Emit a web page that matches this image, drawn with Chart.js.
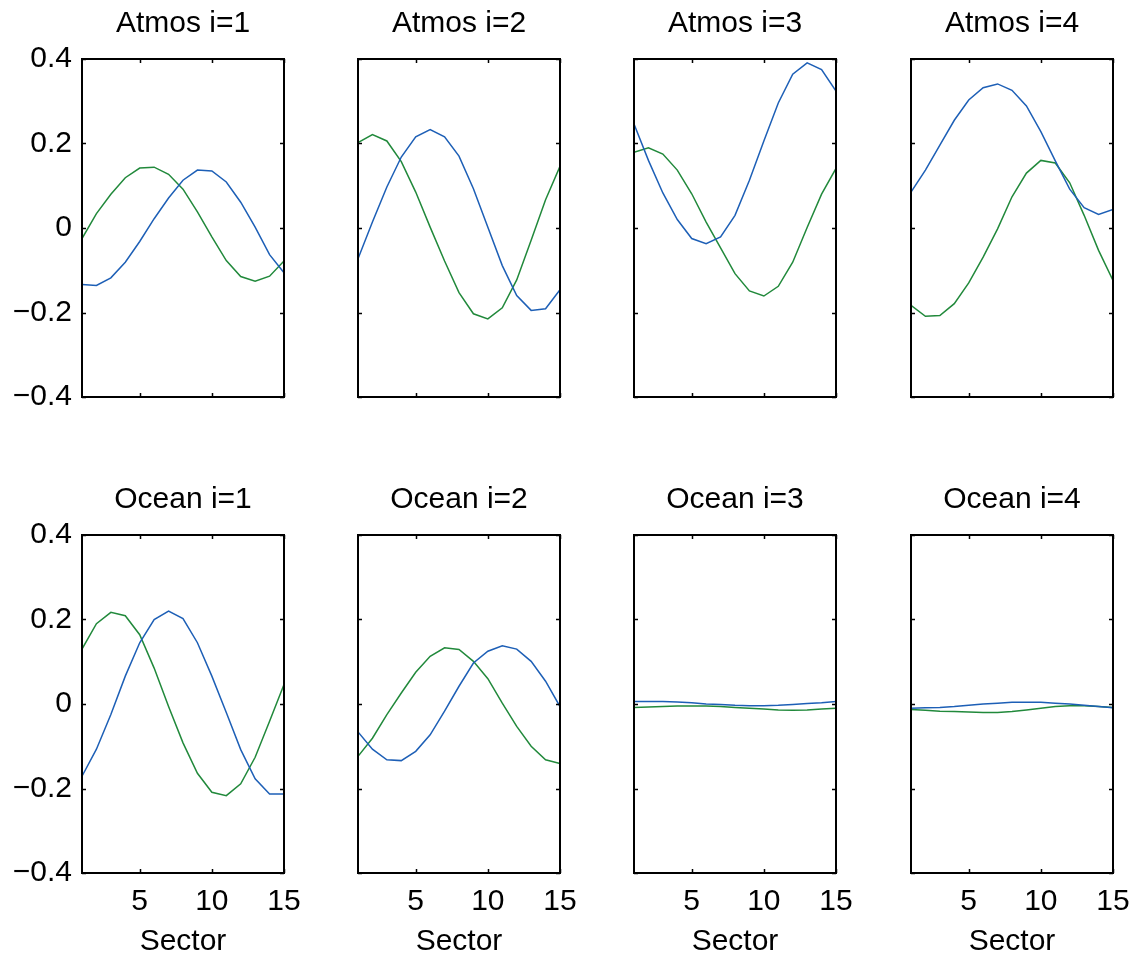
<!DOCTYPE html>
<html>
<head>
<meta charset="utf-8">
<script src="https://cdn.jsdelivr.net/npm/chart.js@4/dist/chart.umd.min.js"></script>
<style>
  html, body { margin: 0; padding: 0; background: #fff; }
  body { width: 1142px; height: 957px; position: relative; overflow: hidden; }
  canvas { position: absolute; }
</style>
</head>
<body>
<script>
// ---------- data ----------
const sectors = [1,2,3,4,5,6,7,8,9,10,11,12,13,14,15];
const panelTitles = ['Atmos i=1','Atmos i=2','Atmos i=3','Atmos i=4','Ocean i=1','Ocean i=2','Ocean i=3','Ocean i=4'];
const xTickValues = [5, 10, 15];
const xTickLabels = ['5', '10', '15'];
const xAxisTitle = 'Sector';
const yTickValues = [-0.4, -0.2, 0, 0.2, 0.4];
const yTickLabels = ['\u22120.4', '\u22120.2', '0', '0.2', '0.4'];

const atmosBlue1  = [-0.134,-0.136,-0.118,-0.081,-0.032,0.022,0.071,0.113,0.137,0.135,0.109,0.061,0.002,-0.063,-0.106];
const atmosGreen1 = [-0.025,0.034,0.080,0.119,0.142,0.144,0.127,0.092,0.038,-0.021,-0.077,-0.115,-0.126,-0.114,-0.078];
const atmosBlue2  = [-0.073,0.014,0.097,0.168,0.216,0.233,0.216,0.170,0.093,0.002,-0.089,-0.160,-0.195,-0.191,-0.146];
const atmosGreen2 = [0.202,0.221,0.206,0.157,0.085,0.002,-0.078,-0.153,-0.203,-0.215,-0.189,-0.123,-0.029,0.067,0.146];
const atmosBlue3  = [0.246,0.160,0.083,0.020,-0.025,-0.037,-0.021,0.030,0.113,0.206,0.296,0.364,0.391,0.375,0.324];
const atmosGreen3 = [0.179,0.190,0.175,0.137,0.081,0.014,-0.047,-0.108,-0.149,-0.161,-0.138,-0.081,0.001,0.080,0.141];
const atmosBlue4  = [0.085,0.137,0.196,0.255,0.303,0.332,0.341,0.326,0.289,0.228,0.159,0.092,0.048,0.032,0.044];
const atmosGreen4 = [-0.183,-0.209,-0.207,-0.179,-0.130,-0.069,-0.002,0.074,0.130,0.160,0.154,0.107,0.030,-0.053,-0.124];

const oceanBlue1  = [-0.171,-0.107,-0.025,0.066,0.145,0.200,0.220,0.202,0.145,0.066,-0.020,-0.108,-0.177,-0.213,-0.213];
const oceanGreen1 = [0.130,0.190,0.217,0.209,0.164,0.085,-0.006,-0.092,-0.164,-0.209,-0.217,-0.189,-0.126,-0.041,0.046];
const oceanBlue2  = [-0.066,-0.107,-0.132,-0.134,-0.112,-0.073,-0.017,0.042,0.097,0.125,0.138,0.130,0.101,0.054,-0.006];
const oceanGreen2 = [-0.124,-0.081,-0.025,0.026,0.075,0.113,0.133,0.129,0.101,0.060,0.002,-0.053,-0.100,-0.132,-0.141];
const oceanBlue3  = [0.006,0.006,0.006,0.005,0.003,0.000,-0.001,-0.003,-0.004,-0.004,-0.003,-0.001,0.001,0.003,0.006];
const oceanGreen3 = [-0.008,-0.007,-0.006,-0.005,-0.005,-0.005,-0.006,-0.008,-0.010,-0.012,-0.014,-0.015,-0.014,-0.012,-0.010];
const oceanBlue4  = [-0.010,-0.009,-0.008,-0.006,-0.003,0.000,0.002,0.004,0.004,0.004,0.002,0.000,-0.003,-0.006,-0.009];
const oceanGreen4 = [-0.013,-0.015,-0.017,-0.018,-0.019,-0.020,-0.020,-0.018,-0.014,-0.010,-0.006,-0.004,-0.004,-0.006,-0.008];

// ---------- layout / style ----------
const BLUE = '#1d5fb6';
const GREEN = '#21893b';
const FONT = '"Liberation Sans", Arial, Helvetica, sans-serif';
const plotLefts = [82, 358, 634, 911];
const rowTops = [0, 476];
const Y_AXIS_W = 82, PLOT_W = 202, RIGHT_PAD = 30;
const TITLE_H = 59, PLOT_H = 338, X_AXIS_H = 84;

const panels = [
  [atmosBlue1, atmosGreen1], [atmosBlue2, atmosGreen2], [atmosBlue3, atmosGreen3], [atmosBlue4, atmosGreen4],
  [oceanBlue1, oceanGreen1], [oceanBlue2, oceanGreen2], [oceanBlue3, oceanGreen3], [oceanBlue4, oceanGreen4]
];

const framePlugin = {
  id: 'matlabFrame',
  afterDraw(chart) {
    const {ctx, chartArea: a, scales} = chart;
    const tl = 4;
    ctx.save();
    ctx.strokeStyle = '#000';
    ctx.lineWidth = 1.5;
    ctx.beginPath();
    yTickValues.forEach(v => {
      const py = Math.round(scales.y.getPixelForValue(v)) + 0.5;
      ctx.moveTo(a.left, py); ctx.lineTo(a.left + tl, py);
      ctx.moveTo(a.right, py); ctx.lineTo(a.right - tl, py);
    });
    xTickValues.forEach(v => {
      const px = Math.round(scales.x.getPixelForValue(v)) + 0.5;
      ctx.moveTo(px, a.bottom); ctx.lineTo(px, a.bottom - tl);
      ctx.moveTo(px, a.top); ctx.lineTo(px, a.top + tl);
    });
    ctx.stroke();
    ctx.lineWidth = 2;
    ctx.strokeRect(a.left, a.top, a.right - a.left, a.bottom - a.top);
    ctx.restore();
  }
};

panels.forEach((pair, idx) => {
  const row = Math.floor(idx / 4), col = idx % 4;
  const canvas = document.createElement('canvas');
  const cw = Y_AXIS_W + PLOT_W + RIGHT_PAD, ch = TITLE_H + PLOT_H + X_AXIS_H;
  canvas.width = cw; canvas.height = ch;
  canvas.style.width = cw + 'px'; canvas.style.height = ch + 'px';
  canvas.style.left = (plotLefts[col] - Y_AXIS_W) + 'px';
  canvas.style.top = rowTops[row] + 'px';
  document.body.appendChild(canvas);

  const mk = (vals, color) => ({
    data: sectors.map((s, i) => ({x: s, y: vals[i]})),
    borderColor: color, borderWidth: 1.5, pointRadius: 0, tension: 0, fill: false
  });

  new Chart(canvas, {
    type: 'line',
    data: { datasets: [mk(pair[0], BLUE), mk(pair[1], GREEN)] },
    options: {
      responsive: false, animation: false, devicePixelRatio: 1,
      layout: { padding: { left: 0, right: RIGHT_PAD, top: 0, bottom: 0 } },
      plugins: {
        legend: { display: false }, tooltip: { enabled: false },
        title: {
          display: true, text: panelTitles[idx], color: '#000', fullSize: false, align: 'center',
          font: { family: FONT, size: 30, weight: 'normal', lineHeight: 1.2 },
          padding: { top: 6, bottom: 17 }
        }
      },
      scales: {
        x: {
          type: 'linear', min: 1, max: 15,
          afterBuildTicks: s => { s.ticks = xTickValues.map(v => ({value: v})); },
          afterFit: s => { s.height = X_AXIS_H; },
          grid: { display: false, drawTicks: false }, border: { display: false },
          ticks: {
            display: row === 1, color: '#000', padding: 11, maxRotation: 0, autoSkip: false,
            font: { family: FONT, size: 30 },
            callback: (v, i) => xTickLabels[i]
          },
          title: {
            display: row === 1, text: xAxisTitle, color: '#000', padding: 0,
            font: { family: FONT, size: 30, lineHeight: 1 }
          }
        },
        y: {
          type: 'linear', min: -0.4, max: 0.4,
          afterBuildTicks: s => { s.ticks = yTickValues.map(v => ({value: v})); },
          afterFit: s => { s.width = Y_AXIS_W; },
          grid: { display: false, drawTicks: false }, border: { display: false },
          ticks: {
            display: col === 0, color: '#000', padding: 10,
            font: { family: FONT, size: 30 },
            callback: (v, i) => yTickLabels[i]
          }
        }
      }
    },
    plugins: [framePlugin]
  });
});
</script>
</body>
</html>
